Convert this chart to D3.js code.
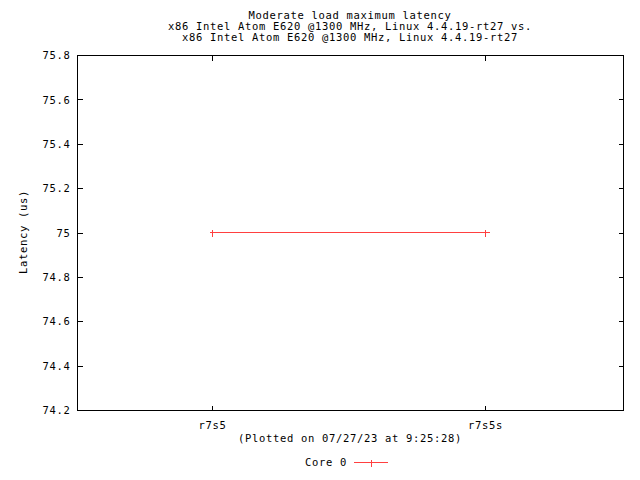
<!DOCTYPE html>
<html><head><meta charset="utf-8">
<script src="https://cdn.jsdelivr.net/npm/d3@7"></script>
<style>
body{margin:0;background:#fff;}
text{font-family:"DejaVu Sans Mono","Liberation Mono",monospace;font-size:10.5px;letter-spacing:0.68px;fill:#000;}
</style></head>
<body>
<svg id="c" width="640" height="480"></svg>
<script>
const titleLines = ["Moderate load maximum latency",
  "x86 Intel Atom E620 @1300 MHz, Linux 4.4.19-rt27 vs.",
  "x86 Intel Atom E620 @1300 MHz, Linux 4.4.19-rt27"];
const categories = ["r7s5", "r7s5s"];
const core0 = [75, 75];
const yTicks = [74.2, 74.4, 74.6, 74.8, 75, 75.2, 75.4, 75.6, 75.8];
const seriesName = "Core 0";
const subtitle = "(Plotted on 07/27/23 at 9:25:28)";
const yLabel = "Latency (us)";

const svg = d3.select("#c");
const L = 77, R = 623, T = 55, B = 410;
const color = "#ff4040";
const FONT = "DejaVu Sans Mono", FS = "10.5px", LS = "0.68px";

const x = d3.scaleLinear().domain([-0.5, categories.length - 0.5]).range([L - 1.5, R - 1.5]);
const y = d3.scaleLinear().domain([74.2, 75.8]).range([B, T]);

const styleText = sel => sel.style("font-family", FONT).style("font-size", FS)
  .style("letter-spacing", LS).attr("fill", "#000");

// frame
svg.append("rect").attr("x", L + 0.5).attr("y", T + 0.5).attr("width", R - L).attr("height", B - T)
  .attr("fill", "none").attr("stroke", "#000").attr("shape-rendering", "crispEdges");

const tickLen = 5;
// y axis ticks (left + mirror)
const yAxisL = d3.axisLeft(y).tickValues(yTicks).tickSizeInner(-tickLen).tickSizeOuter(0)
  .tickPadding(0).tickFormat(d => d3.format("")(+d.toFixed(1)));
const ga = svg.append("g").attr("transform", `translate(${L + 0.5},0)`).call(yAxisL);
ga.select(".domain").remove();
ga.selectAll(".tick line").attr("shape-rendering", "crispEdges");
ga.selectAll(".tick text").attr("x", -7).attr("dy", "0.35em").call(styleText);
ga.selectAll(".tick").filter(d => d === 74.2 || d === 75.8).select("line").remove();

const yAxisR = d3.axisRight(y).tickValues(yTicks.filter(d => d !== 74.2 && d !== 75.8))
  .tickSizeInner(-tickLen).tickSizeOuter(0).tickFormat("");
const gr = svg.append("g").attr("transform", `translate(${R + 0.5},0)`).call(yAxisR);
gr.select(".domain").remove();
gr.selectAll(".tick line").attr("shape-rendering", "crispEdges");

// x axis ticks bottom + mirror top
const xAxisB = d3.axisBottom(x).tickValues(d3.range(categories.length)).tickSizeInner(-tickLen)
  .tickSizeOuter(0).tickPadding(0).tickFormat(i => categories[i]);
const gb = svg.append("g").attr("transform", `translate(0,${B + 0.5})`).call(xAxisB);
gb.select(".domain").remove();
gb.selectAll(".tick line").attr("shape-rendering", "crispEdges");
gb.selectAll(".tick text").attr("y", 15).attr("dy", "0.35em").call(styleText);

const xAxisT = d3.axisTop(x).tickValues(d3.range(categories.length)).tickSizeInner(-tickLen)
  .tickSizeOuter(0).tickFormat("");
const gt = svg.append("g").attr("transform", `translate(0,${T + 0.5})`).call(xAxisT);
gt.select(".domain").remove();
gt.selectAll(".tick line").attr("shape-rendering", "crispEdges");

// data line
const pts = core0.map((v, i) => [x(i), y(v)]);
svg.append("path").datum(pts)
  .attr("d", d3.line().x(d => Math.floor(d[0]) + 0.5).y(d => Math.floor(d[1]) + 0.5))
  .attr("fill", "none").attr("stroke", color).attr("stroke-width", 1).attr("shape-rendering", "crispEdges");
const plus = (sel, cx, cy) => {
  const X = Math.floor(cx) + 0.5, Y = Math.floor(cy) + 0.5;
  sel.append("path").attr("d", `M${X - 3},${Y}H${X + 4}M${X},${Y - 3}V${Y + 4}`)
    .attr("stroke", color).attr("fill", "none").attr("shape-rendering", "crispEdges");
};
pts.forEach(p => plus(svg, p[0], p[1]));

// titles
svg.selectAll(".title").data(titleLines).enter().append("text")
  .attr("x", 350).attr("y", (d, i) => 15 + i * 11).attr("dy", "0.35em")
  .attr("text-anchor", "middle").text(d => d);

// y label
svg.append("text").attr("transform", "translate(23,232) rotate(-90)")
  .attr("text-anchor", "middle").attr("dy", "0.35em").text(yLabel);

// subtitle
svg.append("text").attr("x", 350).attr("y", 438).attr("dy", "0.35em")
  .attr("text-anchor", "middle").text(subtitle);

// legend
svg.append("text").attr("x", 347).attr("y", 462).attr("dy", "0.35em")
  .attr("text-anchor", "end").text(seriesName);
svg.append("line").attr("x1", 354).attr("x2", 388).attr("y1", 462.5).attr("y2", 462.5)
  .attr("stroke", color).attr("shape-rendering", "crispEdges");
plus(svg, 371, 462);
</script>
</body></html>
